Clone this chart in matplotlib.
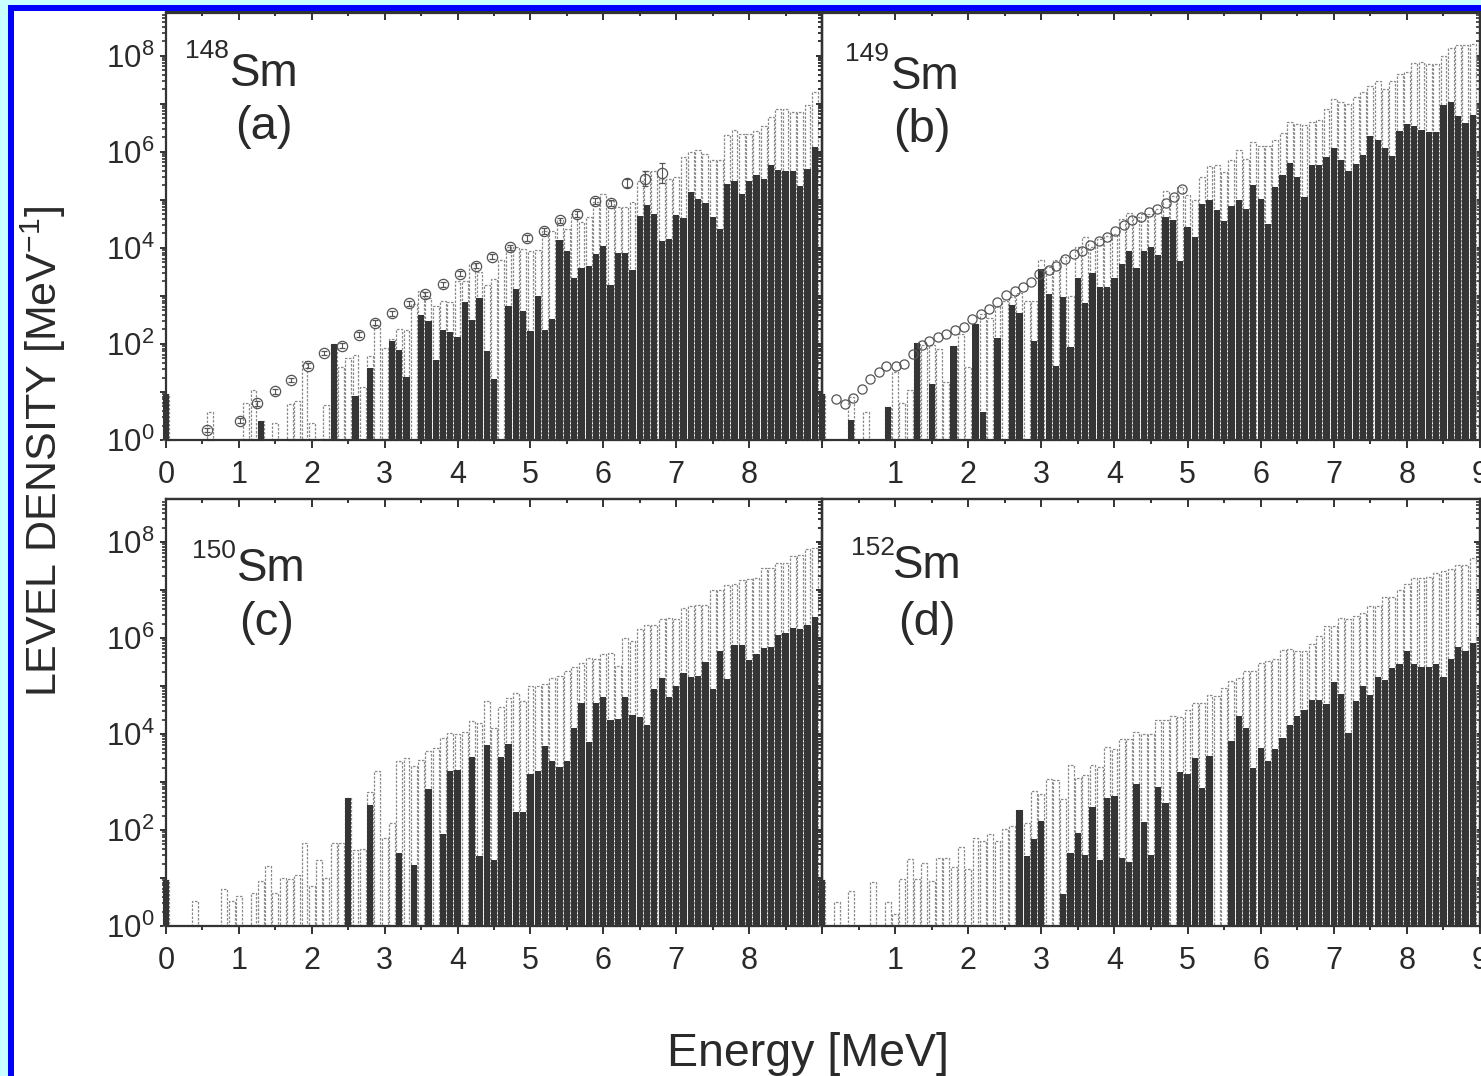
import numpy as np
import matplotlib
matplotlib.use("Agg")
import matplotlib.pyplot as plt
from matplotlib.patches import Rectangle
from matplotlib.ticker import FixedLocator, LogLocator, FuncFormatter, NullFormatter

plt.rcParams['font.family'] = ['Liberation Sans', 'DejaVu Sans']
plt.rcParams['mathtext.fontset'] = 'custom'
plt.rcParams['mathtext.rm'] = 'Liberation Sans'
plt.rcParams['mathtext.it'] = 'Liberation Sans:italic'
plt.rcParams['mathtext.bf'] = 'Liberation Sans:bold'

N = None
# bin centres (MeV), 0.1 MeV bins
energy = np.round(np.arange(90) * 0.1, 1)

# ---- values, as log10(level density / MeV^-1) ----
# (a) 148Sm
a_total = [0.96, N, N, N, N, N, 0.59, N, N, N,
           N, 0.77, 1.04, 0.39, N, 0.35, N, 0.75, 0.82, 1.65,
           0.35, N, 0.73, 2.00, 1.53, 1.71, 1.78, 1.11, 1.74, 2.38,
           1.92, 2.10, 2.31, 2.30, 2.83, 3.10, 2.95, 2.80, 2.90, 2.87,
           3.32, 3.30, 3.67, 3.49, 3.22, 3.35, 3.74, 4.01, 4.01, 3.98,
           3.94, 3.95, 4.36, 4.36, 4.57, 4.40, 4.71, 4.54, 4.65, 4.95,
           5.12, 4.98, 4.85, 4.85, 4.95, 5.40, 5.61, 5.61, 5.44, 5.44,
           5.47, 5.89, 5.99, 6.03, 5.96, 5.82, 5.82, 6.36, 6.46, 6.37,
           6.37, 6.43, 6.53, 6.72, 6.90, 6.90, 6.83, 6.83, 6.97, 7.24]
a_dark = [0.96, N, N, N, N, N, N, N, N, N,
          N, N, N, 0.39, N, N, N, N, N, N,
          N, N, N, 2.00, N, N, 0.92, N, 1.50, N,
          N, 2.07, 1.875, 1.31, N, 2.61, 2.47, 1.67, 2.29, 2.24,
          2.15, 2.88, 2.50, 2.95, 1.85, 1.26, N, 2.80, 3.15, 2.69,
          2.26, 2.99, 2.28, 2.52, 4.17, 3.94, 3.375, 3.58, 3.62, 3.875,
          4.03, 3.22, 3.90, 3.90, 3.54, 4.67, 4.90, 4.71, 4.14, 4.19,
          4.69, 4.625, 5.16, 5.02, 4.94, 4.65, 4.40, 5.33, 5.40, 5.125,
          5.40, 5.52, 5.44, 5.73, 5.625, 5.59, 5.59, 5.28, 5.65, 6.10]
a_exp_energy = [0.56, 1.02, 1.25, 1.49, 1.72, 1.95, 2.17, 2.41, 2.65, 2.87,
                3.10, 3.33, 3.56, 3.80, 4.03, 4.25, 4.47, 4.72, 4.95, 5.18,
                5.41, 5.64, 5.88, 6.11, 6.33, 6.57, 6.80]
a_exp = [0.21, 0.40, 0.76, 1.01, 1.25, 1.55, 1.81, 1.96, 2.19, 2.44,
         2.64, 2.85, 3.04, 3.24, 3.46, 3.63, 3.82, 4.01, 4.21, 4.35,
         4.57, 4.71, 4.97, 4.93, 5.35, 5.44, 5.56]
a_exp_err = [0.05, 0.05, 0.05, 0.05, 0.05, 0.05, 0.05, 0.05, 0.05, 0.05,
             0.05, 0.05, 0.05, 0.05, 0.05, 0.05, 0.05, 0.06, 0.06, 0.06,
             0.06, 0.06, 0.06, 0.06, 0.08, 0.15, 0.20]

# (b) 149Sm
b_total = [0.96, N, N, N, 0.90, N, 0.58, N, N, 0.68,
           1.41, 0.77, 1.04, 2.02, 1.97, 1.97, 1.90, 1.20, 1.95, 2.21,
           1.51, 2.42, 2.62, 2.55, 2.80, 2.90, 2.98, 3.05, 2.90, 2.90,
           3.74, 3.60, 3.74, 3.80, 3.00, 4.01, 4.22, 4.01, 4.18, 4.25,
           4.29, 4.60, 4.72, 4.65, 4.70, 4.70, 4.81, 5.19, 5.09, 5.26,
           5.10, 5.00, 5.47, 5.70, 5.72, 5.58, 5.83, 6.03, 5.85, 6.20,
           6.12, 6.12, 6.24, 6.39, 6.62, 6.57, 6.55, 6.62, 6.67, 6.90,
           7.09, 7.03, 7.00, 7.14, 7.24, 7.38, 7.47, 7.31, 7.48, 7.61,
           7.66, 7.85, 7.87, 7.83, 7.83, 8.00, 8.16, 8.22, 8.22, 8.24]
b_dark = [0.96, N, N, N, 0.42, N, N, N, N, 0.68,
          N, N, N, 2.02, N, 1.17, N, N, 1.95, N,
          N, 2.42, 0.59, N, 2.125, N, 2.82, 2.65, N, 2.06,
          3.56, 3.04, 1.55, 2.97, 1.93, 3.37, 2.85, 3.47, 3.19, 3.19,
          3.37, 3.67, 3.93, 3.58, 3.94, 4.01, 3.86, 4.65, 4.57, 3.72,
          4.43, 4.22, 4.92, 5.00, 4.78, 4.55, 4.87, 5.00, 4.81, 5.30,
          5.02, 4.50, 5.26, 5.51, 5.77, 5.47, 5.06, 5.73, 5.73, 5.89,
          6.08, 5.83, 5.60, 5.75, 5.94, 6.32, 6.24, 6.08, 5.92, 6.44,
          6.57, 6.53, 6.46, 6.41, 6.42, 6.965, 7.03, 6.74, 6.60, 6.76]
b_exp_energy = [0.19, 0.32, 0.43, 0.55, 0.66, 0.78, 0.88, 1.01, 1.12, 1.245,
                1.37, 1.47, 1.59, 1.70, 1.82, 1.94, 2.05, 2.17, 2.29, 2.40,
                2.52, 2.64, 2.755, 2.86, 2.97, 3.10, 3.20, 3.33, 3.44, 3.56,
                3.66, 3.785, 3.90, 4.01, 4.13, 4.24, 4.36, 4.47, 4.58, 4.71,
                4.82, 4.93]
b_exp = [0.85, 0.75, 0.875, 1.06, 1.28, 1.41, 1.55, 1.55, 1.58, 1.79,
         1.97, 2.07, 2.14, 2.21, 2.28, 2.35, 2.52, 2.625, 2.73, 2.87,
         3.01, 3.11, 3.18, 3.28, 3.46, 3.53, 3.63, 3.77, 3.875, 3.94,
         4.05, 4.15, 4.22, 4.36, 4.47, 4.57, 4.64, 4.74, 4.81, 4.93,
         5.06, 5.23]

# (c) 150Sm
c_total = [0.96, N, N, N, 0.52, N, N, N, 0.78, 0.52,
           0.62, N, 0.69, 0.94, 1.26, 0.69, 1.00, 0.97, 1.06, 1.74,
           0.83, 1.37, 1.00, 1.72, 1.72, 2.67, 1.58, 1.60, 2.79, 3.24,
           1.84, 2.15, 3.44, 3.51, 3.33, 3.45, 3.65, 3.72, 3.92, 4.03,
           4.00, 4.04, 4.28, 4.23, 4.70, 4.12, 4.57, 4.76, 4.86, 4.68,
           5.01, 5.00, 5.05, 5.17, 5.21, 5.31, 5.40, 5.49, 5.59, 5.56,
           5.67, 5.69, 5.42, 6.01, 5.94, 6.18, 6.28, 6.28, 6.39, 6.42,
           6.40, 6.63, 6.68, 6.70, 6.70, 7.01, 7.00, 7.10, 7.13, 7.22,
           7.24, 7.26, 7.47, 7.46, 7.56, 7.56, 7.71, 7.74, 7.85, 7.88]
c_dark = [0.96, N, N, N, N, N, N, N, N, N,
          N, N, N, N, N, N, N, N, N, N,
          N, N, N, N, N, 2.67, N, N, 2.53, N,
          N, N, 1.53, N, 1.28, N, 2.85, N, 1.91, 3.24,
          3.26, N, 3.52, 1.46, 3.77, 1.375, 3.52, 3.80, 2.375, 2.375,
          3.16, 3.23, 3.75, 3.44, 3.32, 3.44, 4.12, 4.65, 3.84, 4.65,
          4.77, 4.29, 4.32, 4.78, 4.40, 4.36, 4.19, 4.93, 5.16, 4.77,
          5.01, 5.28, 5.19, 5.21, 5.50, 4.95, 5.74, 5.15, 5.85, 5.85,
          5.54, 5.66, 5.80, 5.82, 6.06, 6.10, 6.22, 6.20, 6.28, 6.44]

# (d) 152Sm
d_total = [0.96, N, 0.49, N, 0.73, N, N, 0.92, N, 0.49,
           0.26, 0.97, 1.39, 0.97, 1.32, 0.94, 1.42, 1.42, 1.22, 1.65,
           1.18, 1.84, 1.77, 1.91, 1.77, 2.03, 2.08, 2.42, 2.15, 2.81,
           2.75, 3.06, 3.05, 2.65, 3.35, 3.09, 3.14, 3.35, 3.32, 3.73,
           3.68, 3.89, 3.89, 4.04, 4.00, 4.00, 4.29, 4.29, 4.37, 4.35,
           4.50, 4.65, 4.65, 4.81, 4.79, 4.97, 5.10, 5.17, 5.31, 5.31,
           5.49, 5.52, 5.56, 5.76, 5.78, 5.73, 5.73, 5.87, 6.04, 6.25,
           6.26, 6.42, 6.39, 6.47, 6.53, 6.67, 6.67, 6.85, 6.85, 7.01,
           7.13, 7.26, 7.26, 7.28, 7.35, 7.40, 7.45, 7.53, 7.53, 7.67]
d_dark = [0.96, N, N, N, N, N, N, N, N, N,
          N, N, N, N, N, N, N, N, N, N,
          N, N, N, N, N, N, N, 2.42, 1.46, 1.82,
          2.19, N, N, 0.66, 1.53, 1.94, 1.49, 2.48, 1.375, 2.67,
          2.72, 1.42, 1.34, 2.97, 2.17, 1.49, 2.90, 2.56, N, 3.21,
          3.16, 3.51, 2.87, 3.54, N, N, 3.85, 4.375, 4.13, 3.30,
          3.72, 3.44, 3.68, 3.92, 4.18, 4.375, 4.51, 4.72, 4.72, 4.62,
          5.08, 4.83, 4.03, 4.69, 5.01, 4.81, 5.19, 5.125, 5.37, 5.47,
          5.74, 5.47, 5.40, 5.40, 5.47, 5.19, 5.56, 5.81, 5.74, 5.90]

panel_mass = ['148', '149', '150', '152']
panel_tag = ['(a)', '(b)', '(c)', '(d)']

# ---------------- figure ----------------
W, H = 1481, 1076
fig = plt.figure(figsize=(W / 100, H / 100), dpi=100, facecolor='white')

TXT = '#2a2a2a'
SPC = '#333333'
DARK = '#353535'
DOT = '#8a8a8a'


def fx(px):
    return px / W


def fy(py):
    return 1 - py / H


boxes = [(166, 822, 12.5, 440), (822, 1480, 12.5, 440),
         (166, 822, 499, 926), (822, 1480, 499, 926)]
totals = [a_total, b_total, c_total, d_total]
darks = [a_dark, b_dark, c_dark, d_dark]
xlab_sets = [range(0, 9), range(1, 10), range(0, 9), range(1, 10)]

axes = []
for i, (l, r, t, b) in enumerate(boxes):
    ax = fig.add_axes([fx(l), fy(b), (r - l) / W, (b - t) / H])
    ax.set_facecolor('none')
    ax.set_yscale('log')
    ax.set_xlim(0, 9)
    ax.set_ylim(1, 10 ** 8.9)

    tot = np.array(totals[i], dtype=float)
    drk = np.array(darks[i], dtype=float)
    m = ~np.isnan(tot)
    ax.bar(energy[m], 10 ** tot[m] - 1, bottom=1, width=0.08,
           facecolor='white', edgecolor=DOT, linewidth=0.9,
           linestyle=(0, (2.0, 1.2)), zorder=2, clip_on=False)
    m2 = ~np.isnan(drk)
    ax.bar(energy[m2], 10 ** drk[m2] - 1, bottom=1, width=0.086,
           color=DARK, linewidth=0, zorder=3, clip_on=False)

    # ticks
    labs = set(xlab_sets[i])
    ax.xaxis.set_major_locator(FixedLocator(list(range(0, 10))))
    ax.xaxis.set_minor_locator(FixedLocator([k + 0.5 for k in range(9)]))
    ax.xaxis.set_major_formatter(FuncFormatter(
        lambda v, p, labs=labs: '%d' % round(v) if round(v) in labs else ''))
    ax.yaxis.set_major_locator(FixedLocator([10.0 ** k for k in range(0, 9)]))
    ax.yaxis.set_minor_locator(LogLocator(base=10, subs=np.arange(2, 10), numticks=20))
    ax.yaxis.set_minor_formatter(NullFormatter())
    if i in (0, 2):
        ax.yaxis.set_major_formatter(FuncFormatter(
            lambda v, p: (r'$\mathregular{10^{%d}}$' % round(np.log10(v)))
            if round(np.log10(v)) % 2 == 0 else ''))
    else:
        ax.yaxis.set_major_formatter(NullFormatter())
    ax.tick_params(axis='x', which='major', direction='out', length=5.5, width=1.4,
                   color=SPC, labelsize=22, labelcolor=TXT, pad=9, top=False)
    ax.tick_params(axis='x', which='minor', direction='out', length=3.2, width=1.4,
                   color=SPC, top=False)
    ax.tick_params(axis='y', which='major', direction='out', length=4.5, width=1.4,
                   color=SPC, labelsize=22.5, labelcolor=TXT, pad=4, right=False)
    ax.tick_params(axis='y', which='minor', direction='out', length=2.6, width=1.2,
                   color=SPC, right=False)
    for s in ax.spines.values():
        s.set_linewidth(1.6)
        s.set_color(SPC)

    sx = ax.secondary_xaxis('top')
    sx.xaxis.set_major_locator(FixedLocator(list(range(0, 10))))
    sx.xaxis.set_minor_locator(FixedLocator([k + 0.5 for k in range(9)]))
    sx.tick_params(which='major', direction='in', length=5.5, width=1.4, color=SPC,
                   labeltop=False)
    sx.tick_params(which='minor', direction='in', length=3.2, width=1.4, color=SPC)
    sx.spines['top'].set_linewidth(1.6)
    sx.spines['top'].set_color(SPC)

    sy = ax.secondary_yaxis('right')
    sy.yaxis.set_major_locator(FixedLocator([10.0 ** k for k in range(0, 9)]))
    sy.yaxis.set_minor_locator(LogLocator(base=10, subs=np.arange(2, 10), numticks=20))
    sy.yaxis.set_major_formatter(NullFormatter())
    sy.yaxis.set_minor_formatter(NullFormatter())
    sy.tick_params(which='major', direction='in', length=4.5, width=1.4, color=SPC)
    sy.tick_params(which='minor', direction='in', length=2.6, width=1.2, color=SPC)
    sy.spines['right'].set_linewidth(1.6)
    sy.spines['right'].set_color(SPC)
    axes.append(ax)

# experimental points
axes[0].errorbar(a_exp_energy, 10 ** np.array(a_exp),
                 yerr=[10 ** np.array(a_exp) * (1 - 10 ** -np.array(a_exp_err)),
                       10 ** np.array(a_exp) * (10 ** np.array(a_exp_err) - 1)],
                 fmt='o', ms=7.4, mfc='none', mec='#555555', mew=0.9,
                 ecolor='#555555', elinewidth=0.8, capsize=2.5, capthick=0.8,
                 zorder=5, clip_on=False)
axes[1].plot(b_exp_energy, 10 ** np.array(b_exp), 'o', ms=6.6, mfc='none',
             mec='#555555', mew=0.9, zorder=5, clip_on=False)

# panel labels
lab_pos = [((185, 58), (230, 86), (264, 139)),
           ((845, 61), (891, 89), (922, 142)),
           ((192, 558), (237, 581), (267, 635)),
           ((851, 555), (893, 578), (927, 635))]
for i, ((mx, my), (sx_, sy_), (tx, ty)) in enumerate(lab_pos):
    fig.text(fx(mx), fy(my), panel_mass[i], fontsize=19, color=TXT,
             ha='left', va='baseline')
    fig.text(fx(sx_), fy(sy_), 'Sm', fontsize=33, color=TXT,
             ha='left', va='baseline')
    fig.text(fx(tx), fy(ty), panel_tag[i], fontsize=34, color=TXT,
             ha='center', va='baseline')

fig.text(fx(43), fy(451), r'LEVEL DENSITY [MeV$^{\mathregular{-1}}$]', rotation=90,
         fontsize=31, color=TXT, ha='center', va='center')
fig.text(fx(808), fy(1066), 'Energy [MeV]', fontsize=33.5, color=TXT,
         ha='center', va='baseline')

# slide frame
fig.add_artist(Rectangle((0, 0), fx(8), 1, transform=fig.transFigure,
                         facecolor='#c8ffff', edgecolor='none', zorder=20))
fig.add_artist(Rectangle((0, fy(5)), 1, 5 / H, transform=fig.transFigure,
                         facecolor='#c8ffff', edgecolor='none', zorder=20))
fig.add_artist(Rectangle((fx(8), 0), 6 / W, fy(5), transform=fig.transFigure,
                         facecolor='#0000ff', edgecolor='none', zorder=21))
fig.add_artist(Rectangle((fx(8), fy(11)), 1, 6 / H, transform=fig.transFigure,
                         facecolor='#0000ff', edgecolor='none', zorder=21))

fig.savefig('out.png', dpi=100, facecolor='white')
